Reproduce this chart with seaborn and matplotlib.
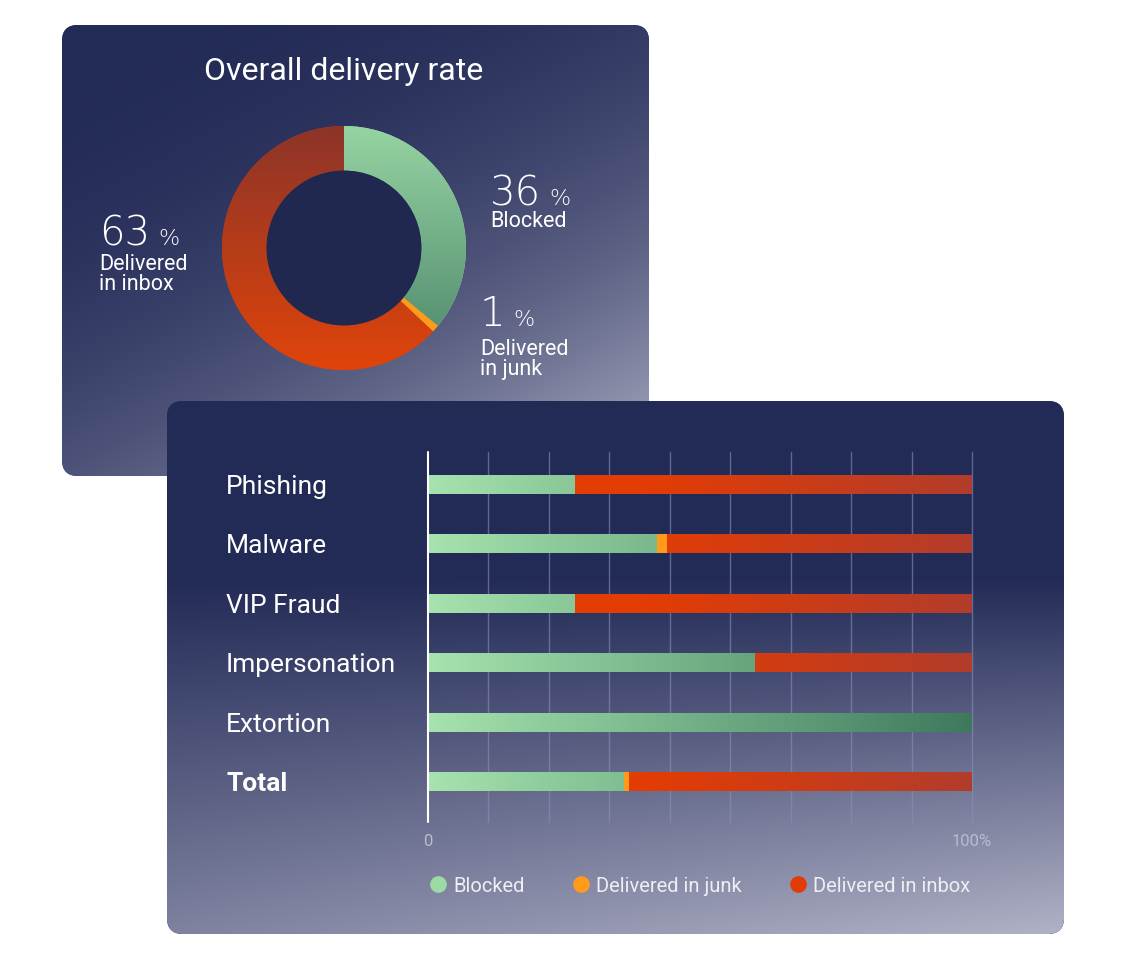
import numpy as np
import pandas as pd
import matplotlib
matplotlib.use("Agg")
import matplotlib.pyplot as plt
import seaborn as sns
from matplotlib.patches import FancyBboxPatch, Circle
from matplotlib.lines import Line2D
from matplotlib.colors import to_rgb

# ---------------- data ----------------
donut_title = "Overall delivery rate"
donut_labels = ["Blocked", "Delivered\nin junk", "Delivered\nin inbox"]
donut_values = [36, 1, 63]

categories = ["Phishing", "Malware", "VIP Fraud", "Impersonation", "Extortion", "Total"]
blocked = [27, 42, 27, 60, 100, 36]
junk = [0, 2, 0, 0, 0, 1]
inbox = [73, 56, 73, 40, 0, 63]

x_tick_values = [0, 100]
x_tick_labels = ["0", "100%"]
legend_labels = ["Blocked", "Delivered in junk", "Delivered in inbox"]

# ---------------- style ----------------
NAVY = "#222a56"
LIGHT = "#b1b2c7"
GREEN = "#9ddba6"
ORANGE = "#ff9a1a"
RED = "#e23c06"

W, H = 1127, 976


def fbox(x, y, w, h):
    return [x / W, 1 - (y + h) / H, w / W, h / H]


sns.set_theme(style="white")
plt.rcParams["font.family"] = ["Roboto", "DejaVu Sans"]

fig = plt.figure(figsize=(W / 100, H / 100), dpi=100, facecolor="white")
renderer = fig.canvas.get_renderer()

# background panels with gradients
bg = fig.add_axes([0, 0, 1, 1], zorder=0)
bg.axis("off")


def gradient_panel(x, y, w, h, tfunc, z):
    patch = FancyBboxPatch((x, y), w, h, boxstyle="round,pad=0,rounding_size=16",
                           fc=NAVY, ec="none", zorder=z)
    bg.add_patch(patch)
    u = np.linspace(0, 1, int(w))[None, :]
    v = np.linspace(0, 1, int(h))[:, None]
    t = np.clip(tfunc(u, v), 0, 1)
    c0 = np.array(to_rgb(NAVY))
    c1 = np.array(to_rgb(LIGHT))
    img = c0 + (c1 - c0) * t[..., None]
    im = bg.imshow(img, extent=(x, x + w, y + h, y), origin="upper", aspect="auto",
                   zorder=z + 0.1, interpolation="bilinear")
    im.set_clip_path(patch)


gradient_panel(62, 25, 587, 451, lambda u, v: ((0.5 * u + 0.75 * v) / 1.25) ** 2.3, 1)
gradient_panel(167, 401, 897, 533,
               lambda u, v: np.clip((v - 0.33) / 0.67, 0, 1) * (0.65 + 0.35 * u), 2)
bg.set_xlim(0, W)
bg.set_ylim(H, 0)

# ---------------- donut ----------------
dax = fig.add_axes(fbox(222, 126, 244, 244), zorder=3)
wedges, _ = dax.pie(donut_values, startangle=90, counterclock=False, radius=1,
                    colors=[GREEN, ORANGE, RED],
                    wedgeprops=dict(width=0.365, edgecolor="none", linewidth=0))
grads = [("#96d4a3", "#4a8468"), None, ("#8c3429", "#e0440a")]
for wdg, g in zip(wedges, grads):
    if g is None:
        continue
    ct, cb = np.array(to_rgb(g[0])), np.array(to_rgb(g[1]))
    s = np.linspace(0, 1, 256)[:, None, None]
    img = ct + (cb - ct) * s
    im = dax.imshow(img, extent=(-1, 1, -1, 1), origin="upper", aspect="auto",
                    zorder=wdg.get_zorder() + 0.1, interpolation="bilinear")
    im.set_clip_path(wdg)
dax.add_patch(Circle((0, 0), 0.635, fc="#20284f", ec="none", zorder=5))
dax.set_xlim(-1, 1)
dax.set_ylim(-1, 1)
dax.set_aspect("equal")
dax.axis("off")

fig.text(344 / W, 1 - 72 / H, donut_title, ha="center", va="center",
         color="white", fontsize=23)


def pct_label(xnum, ybase, ytxt, value, label):
    t = fig.text(xnum / W, 1 - ybase / H, f"{value}", color="white", fontsize=29,
                 fontweight="light", va="baseline", ha="left", family=["DejaVu Sans"])
    bb = t.get_window_extent(renderer)
    fig.text((bb.x1 + 8) / W, 1 - ybase / H, "%", color="white", fontsize=16,
             fontweight="light", va="baseline", ha="left", family=["DejaVu Sans"])
    fig.text(xnum / W, 1 - ytxt / H, label, color="white", fontsize=15.5,
             va="top", ha="left", linespacing=0.92)


pct_label(99, 245, 254, donut_values[2], donut_labels[2])
pct_label(490, 205, 211, donut_values[0], donut_labels[0])
pct_label(480, 326, 339, donut_values[1], donut_labels[1])

# ---------------- stacked bars ----------------
df = pd.DataFrame({"category": categories, "blocked": blocked, "junk": junk, "inbox": inbox})
df["junk_end"] = df["blocked"] + df["junk"]
df["inbox_end"] = df["junk_end"] + df["inbox"]

bax = fig.add_axes(fbox(428, 452, 544, 370), zorder=4)
bax.patch.set_alpha(0)
for col, c in [("inbox_end", RED), ("junk_end", ORANGE), ("blocked", GREEN)]:
    sns.barplot(data=df, y="category", x=col, color=c, width=0.32, ax=bax,
                orient="h", saturation=1, linewidth=0)

n = len(categories)
xs = np.linspace(0, 1, 400)
green_row = np.stack([np.interp(xs, [0, 1], [a, b]) for a, b in
                      zip(to_rgb("#a6e3ae"), to_rgb("#3d7a5d"))], axis=-1)[None, :, :]
red_row = np.stack([np.interp(xs, [0, 0.4, 1], [a, a, b]) for a, b in
                    zip(to_rgb("#e33c04"), to_rgb("#b23c2c"))], axis=-1)[None, :, :]
for i, p in enumerate(bax.patches):
    layer = i // n
    if layer == 0:
        p.set_zorder(2.4)
        im = bax.imshow(red_row, extent=(0, 100, n, -1), aspect="auto", origin="upper",
                        zorder=2.5, interpolation="bilinear")
        im.set_clip_path(p)
    elif layer == 1:
        p.set_zorder(3)
    else:
        p.set_zorder(3.4)
        im = bax.imshow(green_row, extent=(0, 100, n, -1), aspect="auto", origin="upper",
                        zorder=3.5, interpolation="bilinear")
        im.set_clip_path(p)

for k in range(1, 10):
    bax.axvline(100 * k / 9, color="#8a8fbb", alpha=0.6, lw=1, zorder=1, clip_on=False)
bax.axvline(0, color="white", lw=1.5, zorder=6, clip_on=False)

bax.set_xlim(0, 100)
bax.set_ylim(n - 0.32, -0.54)
bax.set_xticks(x_tick_values)
bax.set_xticklabels(x_tick_labels)
bax.set_yticks(range(n))
bax.set_yticklabels(categories)
bax.set_xlabel("")
bax.set_ylabel("")
bax.tick_params(axis="x", length=0, pad=9, colors="#b9bbcf", labelsize=12)
bax.tick_params(axis="y", length=0, pad=145.4, colors="white", labelsize=19)
for lbl in bax.get_yticklabels():
    lbl.set_ha("left")
    lbl.set_va("center_baseline")
    if lbl.get_text() == "Total":
        lbl.set_fontweight("bold")
for sp in bax.spines.values():
    sp.set_visible(False)

handles = [Line2D([], [], marker="o", ls="", markersize=12, markerfacecolor=c,
                  markeredgecolor="none") for c in [GREEN, ORANGE, RED]]
fig.legend(handles, legend_labels, ncol=3, loc="center",
           bbox_to_anchor=(699 / W, 1 - 886 / H), frameon=False,
           labelcolor="#eeeef5", fontsize=14.5, handletextpad=0.25,
           columnspacing=2.3, handlelength=1)

fig.savefig("out.png", dpi=100, facecolor="white")
